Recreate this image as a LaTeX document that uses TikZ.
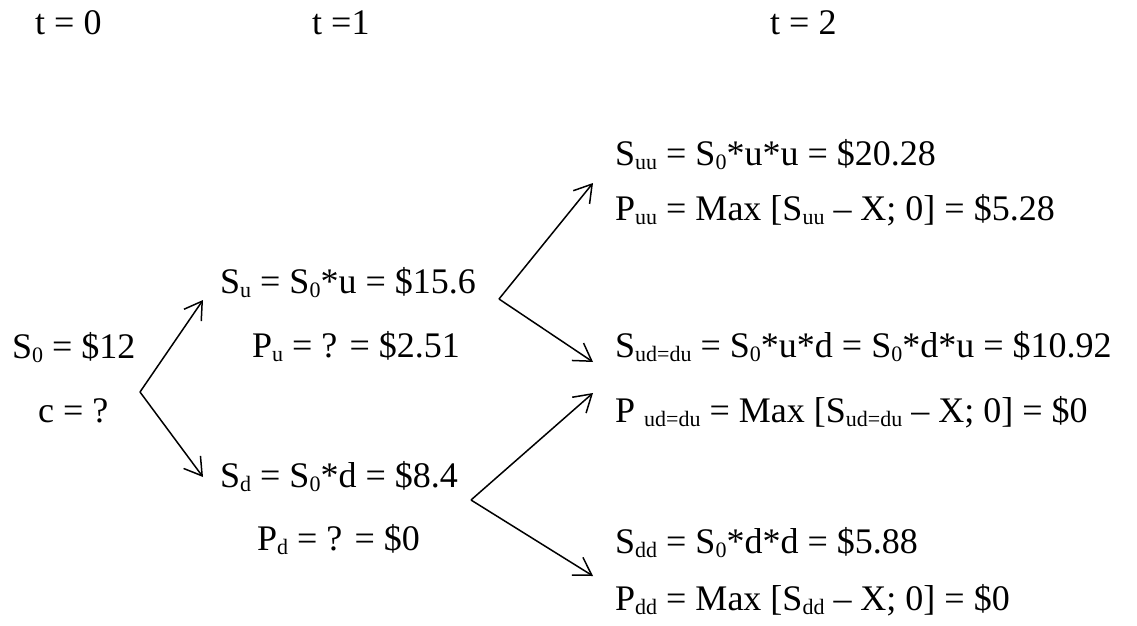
\documentclass[tikz,border=0pt]{standalone}
\usepackage{fontspec}
\setmainfont{Liberation Serif}
\usetikzlibrary{arrows.meta}
\newcommand{\sbx}[1]{\raisebox{-4pt}{\fontsize{22}{22}\selectfont #1}}
\tikzset{
  val/.style={anchor=base west, inner sep=0pt, font=\fontsize{36}{42}\selectfont},
  branch/.style={-{Straight Barb[length=17pt,width=21pt]}, line width=1.5pt},
}

\begin{document}
\begin{tikzpicture}[x=1pt,y=-1pt]
  \useasboundingbox (0,0) rectangle (1137,626);
  % time steps
  \node[val] (t0) at (35,35) {t = 0};
  \node[val] (t1) at (312,35) {t =1};
  \node[val] (t2) at (770,35) {t = 2};
  % t = 0
  \node[val] (s0) at (12,358) {S\sbx{0} = \$12};
  \node[val] (c0) at (38,422) {c = ?};
  % t = 1
  \node[val] (su) at (220,293) {S\sbx{u} = S\sbx{0}*u = \$15.6};
  \node[val] (pu) at (252,357) {P\sbx{u} = ? = \$2.51};
  \node[val] (sd) at (220,487) {S\sbx{d} = S\sbx{0}*d = \$8.4};
  \node[val] (pd) at (257,550) {P\sbx{d} = ? = \$0};
  % t = 2
  \node[val] (suu) at (615,165) {S\sbx{uu} = S\sbx{0}*u*u = \$20.28};
  \node[val] (puu) at (615,220) {P\sbx{uu} = Max [S\sbx{uu} -- X; 0] = \$5.28};
  \node[val] (sud) at (615,357) {S\sbx{ud=du} = S\sbx{0}*u*d = S\sbx{0}*d*u = \$10.92};
  \node[val] (pud) at (615,422) {P \sbx{ud=du} = Max [S\sbx{ud=du} -- X; 0] = \$0};
  \node[val] (sdd) at (615,553) {S\sbx{dd} = S\sbx{0}*d*d = \$5.88};
  \node[val] (pdd) at (615,610) {P\sbx{dd} = Max [S\sbx{dd} -- X; 0] = \$0};
  % branch points and tips
  \coordinate (b0) at (140,392);
  \coordinate (bu) at (499,299);
  \coordinate (bd) at (471,500);
  \coordinate (iu) at (203,300);
  \coordinate (id) at (203,477);
  \coordinate (iuu) at (593,183);
  \coordinate (iud) at (593,362);
  \coordinate (idu) at (593,393);
  \coordinate (idd) at (593,576);
  \draw[branch] (b0) -- (iu);
  \draw[branch] (b0) -- (id);
  \draw[branch] (bu) -- (iuu);
  \draw[branch] (bu) -- (iud);
  \draw[branch] (bd) -- (idu);
  \draw[branch] (bd) -- (idd);
\end{tikzpicture}
\end{document}
